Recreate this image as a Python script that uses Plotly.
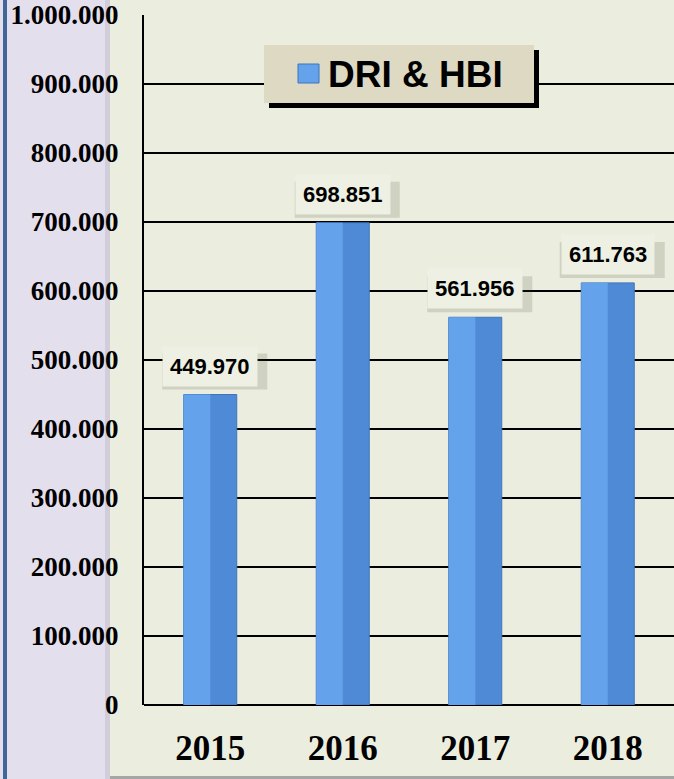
import plotly.graph_objects as go

categories = ["2015", "2016", "2017", "2018"]
values = [449970, 698851, 561956, 611763]
value_labels = ["449.970", "698.851", "561.956", "611.763"]
series_name = "DRI & HBI"
y_tick_vals = [0, 100000, 200000, 300000, 400000, 500000, 600000, 700000, 800000, 900000, 1000000]
y_tick_text = ["0", "100.000", "200.000", "300.000", "400.000", "500.000",
               "600.000", "700.000", "800.000", "900.000", "1.000.000"]

BG = "#EBEEDF"
LAV = "#E4DFEC"
BAR_DARK = "#4F8AD6"
BAR_LIGHT = "#64A2EC"

fig = go.Figure()
# main bar (darker right side)
fig.add_trace(go.Bar(
    x=categories, y=values, name=series_name, width=0.40,
    marker=dict(color=BAR_DARK, line=dict(color="#3E74BC", width=1)),
    showlegend=False,
))
# lighter left half for a two-tone bevel look
fig.add_trace(go.Bar(
    x=categories, y=values, width=0.20, offset=-0.20,
    marker=dict(color=BAR_LIGHT, line=dict(width=0)),
    showlegend=False, hoverinfo="skip",
))

annotations = []
label_shadows = []
for i, (v, t) in enumerate(zip(values, value_labels)):
    annotations.append(dict(
        x=i, y=v, text=t, showarrow=False, yanchor="bottom", yshift=8,
        font=dict(family="Liberation Sans, Arial", size=22, color="black", weight="bold"),
        bgcolor="#EDF0E3", borderpad=7,
    ))
    # soft shadow behind each label box, anchored to the bar top
    label_shadows.append(dict(
        type="rect", xref="x", yref="y", xsizemode="pixel", ysizemode="pixel",
        xanchor=i, yanchor=v, x0=-48, x1=57, y0=5, y1=41,
        fillcolor="rgba(60,60,40,0.16)", line=dict(width=0), layer="above",
    ))

# legend text (manual legend box)
annotations.append(dict(
    xref="paper", yref="paper", x=(326 - 144) / 530, y=(705 - 74) / 690,
    xanchor="left", yanchor="middle", showarrow=False, text=series_name,
    font=dict(family="Liberation Sans, Arial", size=37, color="black", weight="bold"),
))


def px_rect(x0, x1, y0, y1, color, layer="below", line=None):
    # pixel rectangle, x from image-left, y from image-top
    return dict(type="rect", xref="paper", yref="paper", xsizemode="pixel", ysizemode="pixel",
                xanchor=0, yanchor=0, x0=x0 - 144, x1=x1 - 144, y0=705 - y1, y1=705 - y0,
                fillcolor=color, line=line or dict(width=0), layer=layer)


shapes = [
    px_rect(0, 110, 0, 790, LAV),
    px_rect(105, 110, 0, 790, "#D2CDDB"),
    px_rect(3, 7, 0, 790, "#41679A"),
    px_rect(110, 680, 776, 779, "#A6A6A6"),
    # legend shadow and box
    px_rect(269, 539, 50, 108, "black", layer="above"),
    px_rect(264, 534, 45, 103, "#DDD9C3", layer="above"),
    # legend symbol
    px_rect(298, 319, 64, 83, BAR_LIGHT, layer="above", line=dict(color="#3E74BC", width=1)),
] + label_shadows

fig.update_layout(
    width=674, height=779,
    margin=dict(l=144, r=0, t=15, b=74, autoexpand=False),
    paper_bgcolor=BG, plot_bgcolor=BG,
    barmode="overlay",
    shapes=shapes,
    annotations=annotations,
    showlegend=False,
    xaxis=dict(
        type="category", range=[-0.5, len(categories) - 0.5], autorange=False,
        showgrid=False, showline=False, ticks="",
        tickfont=dict(family="Liberation Serif, Times New Roman", size=35, color="black", weight="bold"),
        ticklabelstandoff=19,
    ),
    yaxis=dict(
        range=[0, 1000000], autorange=False, tickvals=y_tick_vals, ticktext=y_tick_text,
        showgrid=True, gridcolor="black", gridwidth=2,
        showline=True, linecolor="black", linewidth=2,
        zeroline=True, zerolinecolor="black", zerolinewidth=2,
        ticks="",
        tickfont=dict(family="Liberation Serif, Times New Roman", size=27, color="black", weight="bold"),
        ticklabelstandoff=18,
    ),
)

fig.write_html("out.html", config={"displayModeBar": False},
               post_script="document.body.style.margin='0';")
